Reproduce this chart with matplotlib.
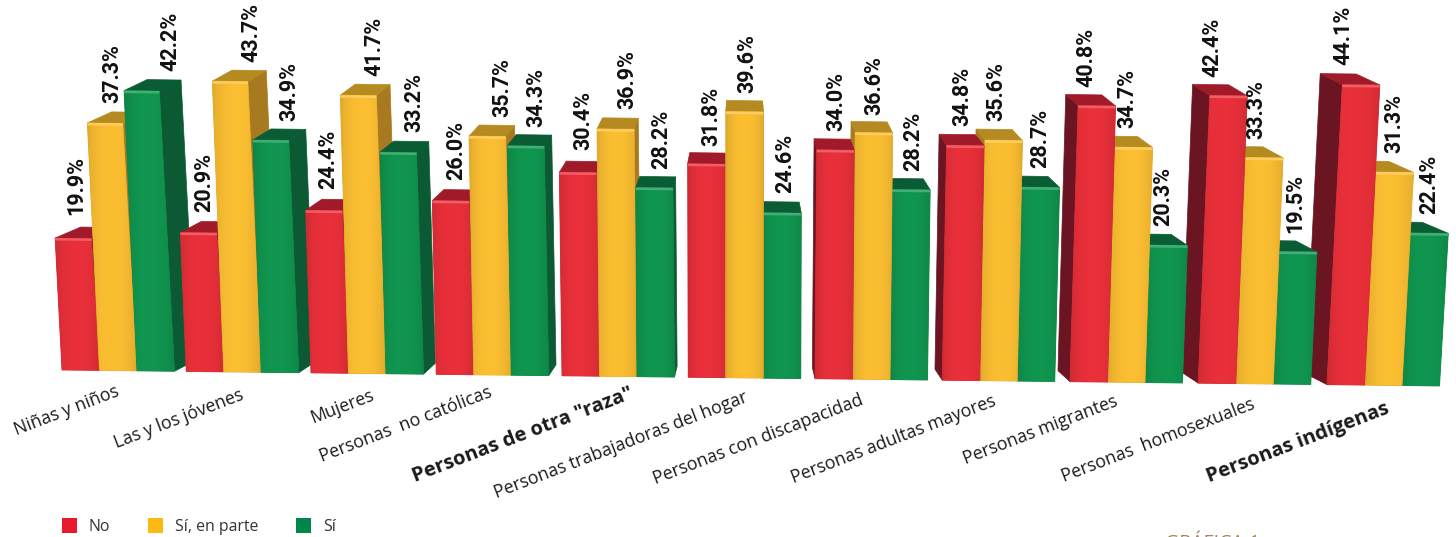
import numpy as np
import matplotlib
matplotlib.use('Agg')
import matplotlib.pyplot as plt
from matplotlib.colors import to_rgb
from matplotlib.patches import Patch, Polygon

categorias = ['Niñas y niños', 'Las y los jóvenes', 'Mujeres', 'Personas  no católicas',
              'Personas de otra "raza"', 'Personas trabajadoras del hogar',
              'Personas con discapacidad', 'Personas adultas mayores',
              'Personas migrantes', 'Personas  homosexuales', 'Personas indígenas']
no = [19.9, 20.9, 24.4, 26.0, 30.4, 31.8, 34.0, 34.8, 40.8, 42.4, 44.1]
en_parte = [37.3, 43.7, 41.7, 35.7, 36.9, 39.6, 36.6, 35.6, 34.7, 33.3, 31.3]
si = [42.2, 34.9, 33.2, 34.3, 28.2, 24.6, 28.2, 28.7, 20.3, 19.5, 22.4]
series = [no, en_parte, si]
nombres = ['No', 'Sí, en parte', 'Sí']
negritas = ['Personas de otra "raza"', 'Personas indígenas']

# colores: frente, lado, tapa, leyenda
colores = [('#EA303A', '#6B1522', '#A01A2A', '#E8192C'),
           ('#FCBF32', '#A87A1F', '#B58A20', '#FDB913'),
           ('#10964F', '#0B5A33', '#0A5C34', '#00854A')]

# ajustes a mano de las etiquetas, el original las tiene colocadas a ojo
nudge_x = [[3, 7, 29], [6, 21, 19], [4, 16, 16], [6, 15, 11], [5, 12, 7], [5, 3, 3],
           [1, 0, 2], [-3, -7, -1], [-10, -6, -5], [-16, -8, -3], [-18, 0, 0]]
nudge_y = [[-4, -1, -1], [-2, 0, 0], [-2, 0, -1], [-2, 0, 0], [-3, -1, 0], [1, 0, -1],
           [0, 1, 0], [0, 0, 0], [0, 0, 0], [0, 0, 0], [-1, 0, 0]]
inicio_cat = [(17, 435), (117, 448), (313, 423), (322, 462), (415, 482), (497, 498),
              (656, 484), (794, 483), (966, 464), (1064, 482), (1209, 482)]

ANCHO = 37.5
CENTRO = 745
LEAN = 8.5e-5
FONDO_X, FONDO_Y = 0.037, 11


def base_x(g, i):
    return 62 + 124 * g + 0.25 * g ** 2 + ANCHO * i


def base_y(x):
    return 370 + (x - 62) * 16 / 1380


def alto(x, valor):
    return valor * (6.62 + 0.2 * x / 1456)


def punto(x, lado, valor, fondo=False):
    # x es el centro de la barra, lado va de -1 a 1 sobre su ancho
    h = alto(x, valor)
    estrecha = 1 - 0.05 * h / 300 * max(0, (CENTRO - x) / CENTRO) * 1.6
    px = x + (x - CENTRO) * LEAN * h + lado * ANCHO / 2 * estrecha
    py = base_y(x + lado * ANCHO / 2) - h
    if fondo:
        px += (CENTRO - px) * FONDO_X
        py -= FONDO_Y
    return px, py


def tono(color, f):
    r = np.array(to_rgb(color))
    return tuple(r + (1 - r) * (f - 1)) if f > 1 else tuple(r * f)


def barra(ax, x, valor, c, z):
    frente, lado, tapa = c[:3]
    pl, pr = punto(x, -1, valor), punto(x, 1, valor)
    bl, br = punto(x, -1, valor, True), punto(x, 1, valor, True)
    s = 1 if x < CENTRO else -1
    caras = [punto(x, s, valor), punto(x, s, valor, True), punto(x, s, 0, True), punto(x, s, 0)]
    ax.add_patch(Polygon(caras, fc=lado, ec=lado, lw=0.5, zorder=z))
    ax.add_patch(Polygon([pl, pr, br, bl], fc=tapa, ec=tapa, lw=0.5, zorder=z))
    # degradado suave del frente, recortado a la forma de la barra
    cara = Polygon([punto(x, -1, 0), punto(x, 1, 0), pr, pl], fc=frente, ec=tono(frente, 0.88),
                   lw=0.6, zorder=z + 0.1)
    ax.add_patch(cara)
    t = np.linspace(0, 1, 32)
    grad = np.array([tono(frente, v) for v in 0.88 + 0.12 * np.sin(np.pi * t) ** 0.6])[None, :, :]
    xs = [p[0] for p in cara.get_xy()]
    ys = [p[1] for p in cara.get_xy()]
    im = ax.imshow(grad, extent=(min(xs), max(xs), max(ys), min(ys)), aspect='auto',
                   interpolation='bilinear', zorder=z + 0.15)
    im.set_clip_path(cara)
    brillo = valor - 2.5 / 6.7
    ax.add_patch(Polygon([pl, pr, punto(x, 1, brillo), punto(x, -1, brillo)],
                         fc=tono(frente, 1.22), ec='none', zorder=z + 0.2))


fig = plt.figure(figsize=(14.56, 5.37), dpi=100)
ax = fig.add_axes([0, 0, 1, 1])
ax.set_xlim(0, 1456)
ax.set_ylim(537, 0)
ax.set_autoscale_on(False)
ax.axis('off')

barras = []
for g in range(len(categorias)):
    for i, serie in enumerate(series):
        barras.append((base_x(g, i) + ANCHO / 2, g, i, serie[g]))
barras.sort(key=lambda b: -abs(b[0] - CENTRO))

for z, (x, g, i, valor) in enumerate(barras):
    barra(ax, x, valor, colores[i], 2 + z)
    cx, cy = punto(x, 0, valor)
    ax.text(cx + nudge_x[g][i], cy - 19 + nudge_y[g][i], f'{valor:.1f}%', rotation=90,
            ha='center', va='bottom', fontsize=15.5, family='Roboto', fontweight='bold',
            color='#111111', zorder=100)

for nombre, (x, y) in zip(categorias, inicio_cat):
    negrita = nombre in negritas
    ax.text(x, y, nombre, rotation=21, rotation_mode='anchor', ha='left', va='baseline',
            fontsize=14.5 if negrita else 12.8, family='Open Sans',
            fontweight='bold' if negrita else 'normal', color='#1A1A1A')

handles = [Patch(fc=c[3], ec='none', label=n) for c, n in zip(colores, nombres)]
ax.legend(handles=handles, ncol=3, frameon=False, loc='lower left',
          bbox_to_anchor=(62 / 1456, 2 / 537), handlelength=0.95, handleheight=1.0,
          handletextpad=0.75, columnspacing=2.38, labelcolor='#333333', borderpad=0, borderaxespad=0,
          prop={'family': 'Open Sans', 'size': 11.4})
ax.text(1165, 534, 'GRÁFICA 1', fontsize=14, color='#A08660', family='Open Sans', va='top', clip_on=False)

fig.savefig('out.png', dpi=100)
